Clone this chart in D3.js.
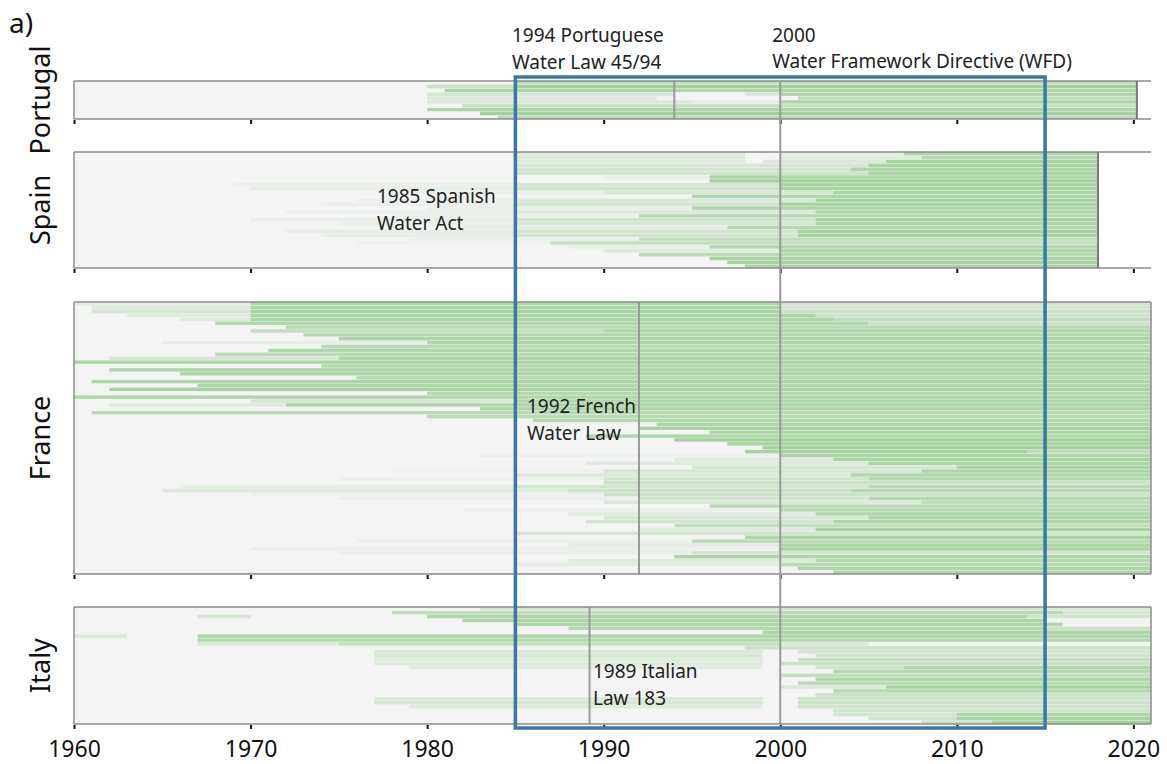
<!DOCTYPE html>
<html>
<head>
<meta charset="utf-8">
<script src="https://cdn.jsdelivr.net/npm/d3@7"></script>
<style>
  body { margin: 0; background: #fff; }
  svg { font-family: "Noto Sans", "Open Sans", sans-serif; }
</style>
</head>
<body>
<div id="chart"></div>
<script>
// station records, one row = a group of gauges, segments are [start, end, share of years with data]
var countries = ["Portugal", "Spain", "France", "Italy"];
var dataEnd = [2020.2, 2018.0, 2021, 2021];
var xTicks = [1960, 1970, 1980, 1990, 2000, 2010, 2020];
var focusPeriod = [1985, 2015];
var wfdYear = 2000;
var wfdLabel = ["2000", "Water Framework Directive (WFD)"];
var lawYears = [1994, 1985, 1992, 1989.2];
var lawLabels = [
    ["1994 Portuguese", "Water Law 45/94"],
    ["1985 Spanish", "Water Act"],
    ["1992 French", "Water Law"],
    ["1989 Italian", "Law 183"]
];

var portugalRows = [
    [[1985, 2020.2, 0.6]],
    [[1980, 1985, 0.5], [1985, 2020.2, 0.95]],
    [[1981, 1994, 0.85], [1994, 2020.2, 0.8]],
    [[1980, 1994, 0.35], [1998, 2000, 0.3], [2000, 2020.2, 0.8]],
    [[1980, 1993, 0.3], [2001, 2020.2, 0.65]],
    [[1980, 1995, 0.3], [1995, 2000, 0.15], [2000, 2020.2, 0.85]],
    [[1982, 2020.2, 0.55]],
    [[1980, 2020.2, 0.85]],
    [[1983, 2020.2, 0.95]],
    [[1984, 2020.2, 0.7]]
];

var spainRows = [
    [[1985, 1998, 0.25], [2000, 2007, 0.2], [2007, 2018, 0.85]],
    [[1985, 1998, 0.3], [2000, 2008, 0.25], [2008, 2018, 0.75]],
    [[1985, 1998, 0.25], [1999, 2006, 0.3], [2006, 2018, 0.9]],
    [[1985, 1998, 0.35], [1998, 2005, 0.35], [2005, 2018, 0.9]],
    [[1985, 1998, 0.4], [1998, 2004, 0.4], [2004, 2018, 0.85]],
    [[1985, 1998, 0.45], [1998, 2005, 0.45], [2005, 2018, 0.9]],
    [[1990, 1996, 0.15], [1996, 2018, 0.85]],
    [[1996, 2018, 0.95]],
    [[1969, 1985, 0.1], [1985, 2000, 0.35], [2000, 2018, 0.9]],
    [[1970, 1985, 0.15], [1985, 2000, 0.45], [2000, 2018, 0.9]],
    [[1978, 1990, 0.08], [1990, 2003, 0.35], [2003, 2018, 0.85]],
    [[1995, 2018, 0.8]],
    [[1976, 1985, 0.08], [1985, 2002, 0.3], [2002, 2018, 0.9]],
    [[1974, 1985, 0.1], [1985, 2000, 0.4], [2000, 2018, 0.9]],
    [[1980, 1995, 0.12], [1995, 2018, 0.85]],
    [[1972, 1985, 0.08], [1985, 2002, 0.3], [2002, 2018, 0.8]],
    [[1978, 1992, 0.1], [1992, 2018, 0.7]],
    [[1970, 1985, 0.12], [1985, 2002, 0.45], [2002, 2018, 0.9]],
    [[1975, 1985, 0.08], [1985, 2002, 0.35], [2002, 2018, 0.85]],
    [[1982, 1997, 0.15], [1997, 2018, 0.75]],
    [[1972, 1985, 0.15], [1985, 2001, 0.4], [2001, 2018, 0.9]],
    [[1974, 1985, 0.12], [1985, 2001, 0.4], [2001, 2018, 0.9]],
    [[1979, 1992, 0.08], [1992, 2018, 0.6]],
    [[1976, 1987, 0.06], [1987, 2018, 0.55]],
    [[1988, 1996, 0.15], [1996, 2018, 0.8]],
    [[1990, 2000, 0.25], [2000, 2018, 0.85]],
    [[1992, 2018, 0.7]],
    [[1996, 2018, 0.9]],
    [[1997, 2018, 0.9]],
    [[1998, 2018, 0.85]]
];

var franceRows = [
    [[1960, 1970, 0.2], [1970, 2000, 0.8], [2000, 2021, 0.45]],
    [[1961, 1970, 0.25], [1970, 2000, 0.85], [2000, 2021, 0.4]],
    [[1961, 1970, 0.35], [1970, 2000, 0.9], [2000, 2021, 0.5]],
    [[1963, 1970, 0.25], [1970, 2002, 0.85], [2002, 2021, 0.45]],
    [[1966, 1970, 0.25], [1970, 2003, 0.85], [2003, 2021, 0.6]],
    [[1968, 2005, 0.8], [2005, 2021, 0.5]],
    [[1972, 2021, 0.7]],
    [[1970, 1990, 0.6], [1990, 2021, 0.8]],
    [[1973, 2021, 0.75]],
    [[1975, 2021, 0.85]],
    [[1965, 1980, 0.15], [1980, 2021, 0.8]],
    [[1974, 2021, 0.7]],
    [[1971, 2021, 0.8]],
    [[1968, 2021, 0.7]],
    [[1962, 1975, 0.35], [1975, 2021, 0.85]],
    [[1960, 2021, 0.85]],
    [[1974, 2021, 0.75]],
    [[1962, 2021, 0.8]],
    [[1966, 2021, 0.85]],
    [[1976, 2021, 0.7]],
    [[1961, 2021, 0.85]],
    [[1967, 2021, 0.8]],
    [[1962, 2021, 0.9]],
    [[1980, 2021, 0.75]],
    [[1960, 2021, 0.8]],
    [[1970, 1985, 0.35], [1985, 2021, 0.8]],
    [[1962, 1972, 0.25], [1972, 2021, 0.85]],
    [[1983, 2021, 0.8]],
    [[1961, 2021, 0.7]],
    [[1980, 2021, 0.7]],
    [[1986, 2021, 0.75]],
    [[1993, 2021, 0.85]],
    [[1992, 2021, 0.9]],
    [[1996, 2021, 0.85]],
    [[1989, 2021, 0.8]],
    [[1994, 2021, 0.95]],
    [[1997, 2021, 0.9]],
    [[1999, 2021, 0.95]],
    [[1998, 2014, 0.9], [2014, 2021, 0.6]],
    [[1983, 2000, 0.08], [2000, 2021, 0.85]],
    [[1994, 2003, 0.25], [2003, 2021, 0.9]],
    [[1989, 2005, 0.25], [2005, 2021, 0.85]],
    [[1995, 2010, 0.35], [2010, 2021, 0.9]],
    [[1978, 1990, 0.06], [1990, 2008, 0.35], [2008, 2021, 0.85]],
    [[1985, 2004, 0.3], [2004, 2021, 0.8]],
    [[1975, 1990, 0.08], [1990, 2005, 0.4], [2005, 2021, 0.75]],
    [[1990, 2021, 0.5]],
    [[1966, 1985, 0.15], [1985, 2005, 0.4], [2005, 2021, 0.7]],
    [[1965, 1988, 0.25], [1988, 2004, 0.5], [2004, 2021, 0.75]],
    [[1970, 1990, 0.08], [1990, 2021, 0.5]],
    [[1975, 1992, 0.08], [1992, 2005, 0.4], [2005, 2021, 0.75]],
    [[1990, 2008, 0.3], [2008, 2021, 0.65]],
    [[1996, 2021, 0.7]],
    [[1982, 2000, 0.08], [2000, 2021, 0.75]],
    [[1988, 2002, 0.25], [2002, 2021, 0.8]],
    [[1990, 2005, 0.35], [2005, 2021, 0.85]],
    [[1989, 2003, 0.4], [2003, 2021, 0.85]],
    [[1994, 2021, 0.6]],
    [[1992, 2002, 0.25], [2002, 2021, 0.9]],
    [[1985, 2021, 0.4]],
    [[1998, 2021, 0.85]],
    [[1976, 1995, 0.1], [1995, 2021, 0.7]],
    [[1988, 2000, 0.2], [2000, 2021, 0.85]],
    [[1970, 2000, 0.1], [2000, 2021, 0.9]],
    [[1975, 1995, 0.12], [1995, 2021, 0.4]],
    [[1994, 2021, 0.85]],
    [[1988, 2002, 0.25], [2002, 2021, 0.75]],
    [[1985, 2000, 0.2], [2000, 2021, 0.7]],
    [[2001, 2021, 0.85]],
    [[2003, 2021, 0.8]]
];

var italyRows = [
    [[1983, 2000, 0.35], [2000, 2015, 0.45], [2015, 2021, 0.3]],
    [[1978, 2000, 0.6], [2000, 2016, 0.7], [2016, 2021, 0.35]],
    [[1967, 1970, 0.35], [1980, 2014, 0.8], [2014, 2021, 0.4]],
    [[1982, 2015, 0.85]],
    [[1985, 2016, 0.8]],
    [[1988, 2015, 0.75], [2015, 2021, 0.5]],
    [[1999, 2021, 0.85]],
    [[1960, 1963, 0.3], [1967, 2021, 0.8]],
    [[1967, 2021, 0.75]],
    [[1967, 1975, 0.3], [1975, 2000, 0.55], [2000, 2005, 0.3]],
    [[1998, 2021, 0.5]],
    [[1977, 1999, 0.3], [2001, 2021, 0.4]],
    [[1977, 1999, 0.35], [2002, 2021, 0.45]],
    [[1977, 1999, 0.25], [2001, 2021, 0.55]],
    [[1977, 1999, 0.25], [2000, 2021, 0.5]],
    [[1979, 1999, 0.2], [2002, 2007, 0.4], [2007, 2021, 0.8]],
    [[2003, 2021, 0.75]],
    [[2000, 2021, 0.6]],
    [[2002, 2021, 0.85]],
    [[2001, 2021, 0.7]],
    [[2000, 2006, 0.3], [2006, 2021, 0.9]],
    [[2003, 2021, 0.75]],
    [[2002, 2021, 0.5]],
    [[1977, 1999, 0.3], [2001, 2021, 0.45]],
    [[1977, 1999, 0.35], [2001, 2021, 0.5]],
    [[1979, 1999, 0.25], [2001, 2021, 0.45]],
    [[2003, 2021, 0.45]],
    [[2003, 2010, 0.4], [2010, 2021, 0.8]],
    [[2005, 2010, 0.45], [2010, 2021, 0.9]],
    [[2008, 2012, 0.5], [2012, 2021, 0.95]]
];

var allRows = [portugalRows, spainRows, franceRows, italyRows];

var width = 1167, height = 764;
// panel vertical extents
var panelY = [[81, 119], [152, 268], [302, 574], [607, 724]];
var lawLabelPos = [[512, 42], [377, 203], [527, 413], [593, 678]];

var svg = d3.select("#chart").append("svg")
    .attr("width", width)
    .attr("height", height);

var x = d3.scaleLinear().domain([1960, 2021]).range([74, 1151]);
var opacity = d3.scaleLinear().domain([0, 1]).range([0, 1]);

var green = "#9fd098", bg = "#f4f4f4", spine = "#8c8c8c", lawColor = "#9a9a9a";

countries.forEach(function(name, i) {
    var y0 = panelY[i][0], y1 = panelY[i][1];
    var rows = allRows[i];
    var y = d3.scaleBand().domain(d3.range(rows.length)).range([y0, y1]).paddingInner(0.12);
    var g = svg.append("g");

    g.append("rect")
        .attr("x", x(1960)).attr("y", y0)
        .attr("width", x(dataEnd[i]) - x(1960)).attr("height", y1 - y0)
        .attr("fill", bg);

    rows.forEach(function(segs, r) {
        g.selectAll(null)
            .data(segs)
            .enter().append("rect")
            .attr("x", d => x(d[0]))
            .attr("y", y(r))
            .attr("width", d => x(d[1]) - x(d[0]))
            .attr("height", y.bandwidth())
            .attr("fill", green)
            .attr("fill-opacity", d => opacity(d[2]));
    });

    // national law line
    g.append("line")
        .attr("x1", x(lawYears[i])).attr("x2", x(lawYears[i]))
        .attr("y1", y0).attr("y2", y1)
        .attr("stroke", lawColor).attr("stroke-width", 2);

    // spines
    g.append("line").attr("x1", x(1960)).attr("x2", x(2021)).attr("y1", y0).attr("y2", y0)
        .attr("stroke", spine).attr("stroke-width", 1.5);
    g.append("line").attr("x1", x(1960)).attr("x2", x(2021)).attr("y1", y1).attr("y2", y1)
        .attr("stroke", spine).attr("stroke-width", 1.5);
    g.append("line").attr("x1", x(1960)).attr("x2", x(1960)).attr("y1", y0).attr("y2", y1)
        .attr("stroke", spine).attr("stroke-width", 1.5);
    g.append("line").attr("x1", x(dataEnd[i])).attr("x2", x(dataEnd[i])).attr("y1", y0).attr("y2", y1)
        .attr("stroke", i < 2 ? "#7a7a7a" : spine).attr("stroke-width", i < 2 ? 2 : 1.5);

    // ticks
    var axis = d3.axisBottom(x).tickValues(xTicks).tickSize(4).tickFormat(i === 3 ? d3.format("d") : "");
    var ax = g.append("g").attr("transform", "translate(0," + (y1 + 1) + ")").call(axis);
    ax.attr("font-family", null).attr("font-size", null);
    ax.select(".domain").remove();
    ax.selectAll(".tick line").attr("stroke", "#111").attr("stroke-width", 2);
    ax.selectAll(".tick text")
        .style("font-size", "23px").attr("fill", "#111")
        .attr("dy", 0).attr("y", 32);

    // country label
    svg.append("text")
        .attr("transform", "translate(50," + ((y0 + y1) / 2) + ") rotate(-90)")
        .attr("text-anchor", "middle")
        .style("font-size", "27px")
        .attr("fill", "#111")
        .text(name);

    // law annotation
    var lt = svg.append("text")
        .style("font-size", "19px").attr("fill", "#222");
    lawLabels[i].forEach(function(line, k) {
        lt.append("tspan").attr("x", lawLabelPos[i][0]).attr("y", lawLabelPos[i][1] + k * 27).text(line);
    });
});

// WFD line across all panels
svg.append("line")
    .attr("x1", x(wfdYear)).attr("x2", x(wfdYear))
    .attr("y1", panelY[0][0]).attr("y2", panelY[3][1])
    .attr("stroke", lawColor).attr("stroke-width", 2);

var wt = svg.append("text").style("font-size", "19px").attr("fill", "#222");
wfdLabel.forEach(function(line, k) {
    wt.append("tspan").attr("x", x(wfdYear) - 8).attr("y", 42 + k * 26).text(line);
});

// focus period box
svg.append("rect")
    .attr("x", x(focusPeriod[0])).attr("y", 77)
    .attr("width", x(focusPeriod[1]) - x(focusPeriod[0]))
    .attr("height", 728 - 77)
    .attr("fill", "none")
    .attr("stroke", "#3b77a9")
    .attr("stroke-width", 3.5);

svg.append("text")
    .attr("x", 9).attr("y", 33)
    .style("font-size", "28px").attr("fill", "#111")
    .text("a)");
</script>
</body>
</html>
